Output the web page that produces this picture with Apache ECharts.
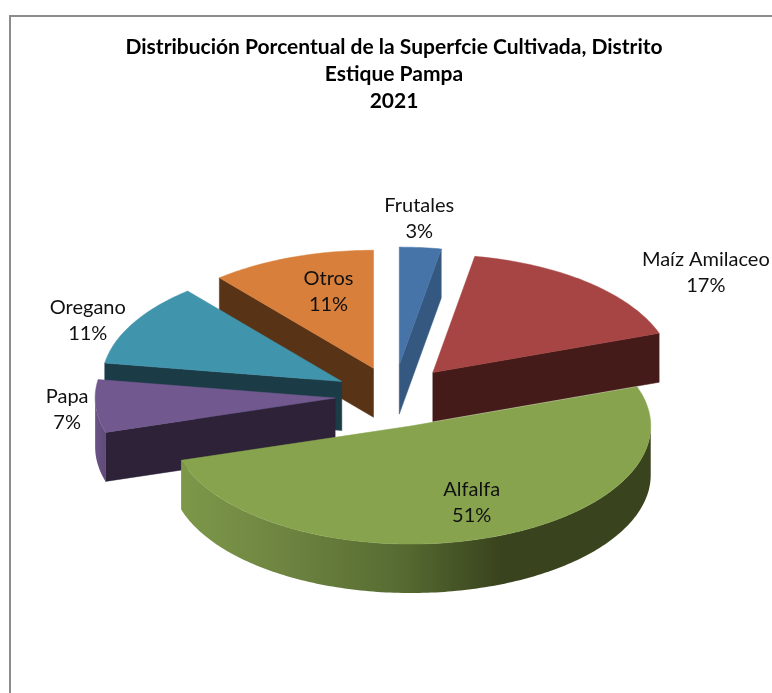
<!DOCTYPE html>
<html>
<head>
<meta charset="utf-8">
<style>html,body{margin:0;padding:0;background:#fff}#c{width:772px;height:693px}</style>
<script src="https://cdn.jsdelivr.net/npm/echarts@6/dist/echarts.min.js"></script>
</head>
<body>
<div id="c"></div>
<script>
// Data (labels show the rounded percentage)
const categories = ['Frutales', 'Maíz Amilaceo', 'Alfalfa', 'Papa', 'Oregano', 'Otros'];
const shares = [2.8, 16.8, 50.7, 7.2, 11.4, 11.1];
const titleLines = ['Distribución Porcentual de la Superfcie Cultivada, Distrito', 'Estique Pampa', '2021'];

// Styling
const topColors = ['#4674a9', '#a64543', '#87a34e', '#71588f', '#4095ad', '#d87f3b'];
const cutColors = ['#34587f', '#451b19', '#39431d', '#2d2238', '#1b3c47', '#593316'];
const rimStops = [
  [[0, '#34587f'], [1, '#34587f']],
  [[0, '#451b19'], [1, '#451b19']],
  [[0, '#7d9849'], [0.23, '#6d8340'], [0.47, '#566b31'], [0.68, '#39431d'], [1, '#39431d']],
  [[0, '#6a5386'], [1, '#5f4a78']],
  [[0, '#1b3c47'], [1, '#1b3c47']],
  [[0, '#593316'], [1, '#593316']]
];
const paintOrder = [1, 1, 4, 3, 2, 1];
const apexNudges = [[0, -1.5], [0, -1], [-2, 2], [1, 0], [0, 0], [0, 0]];
const labelOffsets = [[20, -147], [273, -100], [61, 77], [-268, 12], [-254, -61], [-45, -77]];
const PIE = { cx: 394, cy: 396, rx: 240, ry: 118, depth: 49, explode: 60 };

const total = shares.reduce((a, b) => a + b, 0);
const rad = d => d * Math.PI / 180;

function renderSlice(params, api) {
  const i = params.dataIndex;
  const value = api.value(0);
  let before = 0;
  for (let k = 0; k < i; k++) before += shares[k];
  const a0 = before / total * 360;
  const a1 = a0 + value / total * 360;
  const mid = (a0 + a1) / 2;
  const ax = PIE.cx + PIE.explode * Math.sin(rad(mid)) + apexNudges[i][0];
  const ay = PIE.cy - PIE.explode * (PIE.ry / PIE.rx) * Math.cos(rad(mid)) + apexNudges[i][1];
  const rim = d => [ax + PIE.rx * Math.sin(rad(d)), ay - PIE.ry * Math.cos(rad(d))];
  const down = p => [p[0], p[1] + PIE.depth];
  const base = paintOrder[i] * 10;
  const children = [];
  const poly = (points, fill, z) => children.push({
    type: 'polygon', shape: { points }, z2: base + z,
    style: { fill, stroke: typeof fill === 'string' ? fill : null, lineWidth: 0.5 }
  });
  // radial cut walls
  if (a1 > 0 && a1 < 180) {
    const p = rim(a1);
    poly([[ax, ay], p, down(p), [ax, ay + PIE.depth]], cutColors[i], 0);
  }
  if (a0 > 180 && a0 < 360) {
    const p = rim(a0);
    poly([[ax, ay], p, down(p), [ax, ay + PIE.depth]], cutColors[i], 0);
  }
  // outer wall (front half only)
  const w0 = Math.max(a0, 90), w1 = Math.min(a1, 270);
  if (w1 > w0) {
    const upper = [], lower = [];
    for (let d = w0; d < w1; d += 1) { upper.push(rim(d)); lower.push(down(rim(d))); }
    upper.push(rim(w1)); lower.push(down(rim(w1)));
    const stops = rimStops[i].map(s => ({ offset: s[0], color: s[1] }));
    const fill = new echarts.graphic.LinearGradient(0, 0, 1, 0, stops);
    poly(upper.concat(lower.reverse()), fill, 1);
  }
  // top face
  const face = [[ax, ay]];
  for (let d = a0; d < a1; d += 1) face.push(rim(d));
  face.push(rim(a1));
  poly(face, topColors[i], 2);
  // label
  children.push({
    type: 'text', z2: 200,
    style: {
      text: categories[i] + '\n' + Math.round(value) + '%',
      x: ax + labelOffsets[i][0], y: ay + labelOffsets[i][1],
      align: 'center', verticalAlign: 'middle',
      fontFamily: 'Lato', fontSize: 20, lineHeight: 26, fill: '#111'
    }
  });
  return { type: 'group', children };
}

const chart = echarts.init(document.getElementById('c'), null, { renderer: 'canvas' });
chart.setOption({
  animation: false,
  backgroundColor: '#fff',
  title: {
    text: titleLines.join('\n'),
    left: 389, top: 29, textAlign: 'center',
    textStyle: { fontFamily: 'Lato', fontWeight: 'bold', fontSize: 21, lineHeight: 27, color: '#000' }
  },
  graphic: [{
    type: 'polyline', silent: true,
    shape: { points: [[10, 693], [10, 16], [772, 16]] },
    style: { stroke: '#8c8c8c', lineWidth: 2, fill: null }
  }],
  series: [{
    type: 'custom',
    coordinateSystem: 'none',
    renderItem: renderSlice,
    data: categories.map((name, i) => ({ name, value: [shares[i]] }))
  }]
});
</script>
</body>
</html>
